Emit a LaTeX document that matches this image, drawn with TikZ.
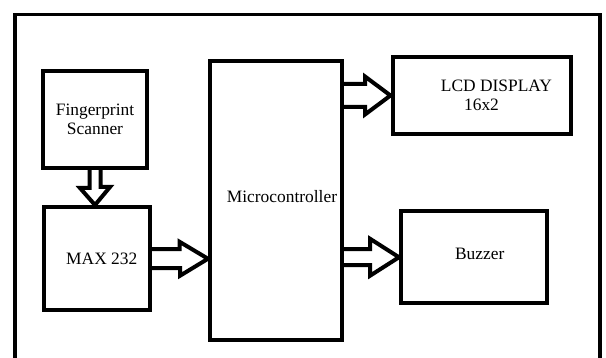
\documentclass[tikz,border=0pt]{standalone}
\usepackage{fontspec}
\setmainfont{Liberation Serif}
\usetikzlibrary{positioning,calc}

\begin{document}
\begin{tikzpicture}[x=1pt, y=-1pt, font=\fontsize{17.4}{18.5}\selectfont,
  blk/.style={draw, line width=4pt, align=center, inner sep=0pt},
  arr/.style={draw, line width=4pt},
  frm/.style={draw, line width=3.5pt}
]
  \useasboundingbox (0,0) rectangle (606,358);
  \draw[frm] (15,14.5) rectangle (600,380);
  % blocks
  \node[blk, minimum width=104pt, minimum height=97pt] (fp) at (95,119.5) {Fingerprint\\Scanner};
  \node[blk, minimum width=105.5pt, minimum height=103.5pt, below=35pt of fp, xshift=1.75pt] (max) {\raisebox{-8pt}{\hspace*{10pt}MAX 232}};
  \node[blk, minimum width=132pt, minimum height=279.5pt] (mcu) at (276,200.75) {\raisebox{9pt}{\hspace*{12pt}Microcontroller}};
  \node[blk, minimum width=178pt, minimum height=77pt] (lcd) at (481.5,95.5) {\hspace*{30pt}LCD DISPLAY\\16x2};
  \node[blk, minimum width=145.5pt, minimum height=92.5pt] (buz) at (473.75,257.25) {\raisebox{7pt}{\hspace*{12pt}Buzzer}};
  % block arrows
  \draw[arr] (fp.south) ++(-5.5,0) -- ++(0,18) -- ++(-9.5,0) -- (fp.south |- max.north) -- ++(15,-18) -- ++(-9.5,0) -- ($(fp.south)+(5.5,0)$);
  \draw[arr] (max.east) ++(0,-9.5) -- ++(28,0) -- ++(0,-7.5) -- (max.east -| mcu.west) -- ++(-28,17) -- ++(0,-7.5) -- ($(max.east)+(0,9.5)$);
  \draw[arr] (mcu.east |- lcd.west) ++(0,-11.5) -- ++(21,0) -- ++(0,-7.5) -- (lcd.west) -- ++(-25.5,19) -- ++(0,-7.5) -- ($(mcu.east |- lcd.west)+(0,11.5)$);
  \draw[arr] (mcu.east |- buz.west) ++(0,-8) -- ++(26,0) -- ++(0,-10.5) -- (buz.west) -- ++(-29,18.5) -- ++(0,-10.5) -- ($(mcu.east |- buz.west)+(0,8)$);
\end{tikzpicture}
\end{document}
